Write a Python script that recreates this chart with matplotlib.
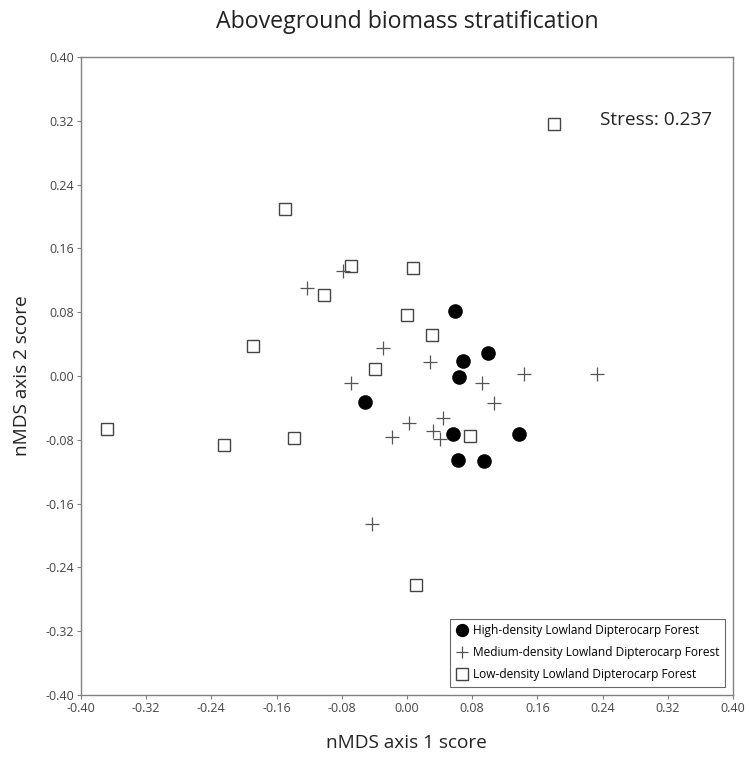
import matplotlib
matplotlib.use("Agg")
import matplotlib.pyplot as plt
import numpy as np

plt.rcParams['font.family'] = ['Open Sans', 'DejaVu Sans']

# nMDS scores
high_x = [0.059, 0.100, 0.069, 0.064, -0.052, 0.057, 0.137, 0.063, 0.095]
high_y = [0.082, 0.029, 0.019, -0.001, -0.032, -0.073, -0.073, -0.105, -0.107]

med_x = [-0.123, -0.079, -0.029, -0.069, -0.018, 0.002, -0.043, 0.028,
         0.144, 0.233, 0.092, 0.107, 0.044, 0.032, 0.041]
med_y = [0.111, 0.132, 0.035, -0.009, -0.076, -0.059, -0.185, 0.017,
         0.002, 0.003, -0.009, -0.034, -0.052, -0.069, -0.079]

low_x = [-0.149, -0.069, 0.007, -0.102, 0.000, -0.189, -0.039, 0.031,
         0.180, -0.368, -0.225, -0.139, 0.077, 0.011]
low_y = [0.210, 0.138, 0.136, 0.101, 0.076, 0.038, 0.009, 0.052,
         0.316, -0.066, -0.087, -0.078, -0.075, -0.262]

ticks = np.arange(-0.40, 0.401, 0.08)
tick_labels = ['%.2f' % t if abs(t) > 1e-9 else '0.00' for t in ticks]

fig = plt.figure(figsize=(7.49, 7.58), dpi=100)
ax = fig.add_axes([0.108, 0.083, 0.8706, 0.8418])

ax.plot(high_x, high_y, 'o', ms=9.5, color='black', mec='black',
        label='High-density Lowland Dipterocarp Forest', zorder=3)
ax.plot(med_x, med_y, '+', ms=10, mew=0.9, color='#555555',
        label='Medium-density Lowland Dipterocarp Forest', zorder=3)
ax.plot(low_x, low_y, 's', ms=9, mew=1.0, mfc='white', mec='#444444',
        label='Low-density Lowland Dipterocarp Forest', zorder=2)

ax.set_xlim(-0.40, 0.40)
ax.set_ylim(-0.40, 0.40)
ax.set_xticks(ticks)
ax.set_xticklabels(tick_labels)
ax.set_yticks(ticks)
ax.set_yticklabels(tick_labels)
ax.tick_params(direction='out', length=3, width=0.8, colors='#808080',
               labelcolor='#444444', labelsize=9, pad=2)
for s in ax.spines.values():
    s.set_color('#808080')
    s.set_linewidth(1.0)

ax.set_xlabel('nMDS axis 1 score', fontsize=13.7, labelpad=14, color='#222222')
ax.set_ylabel('nMDS axis 2 score', fontsize=13.7, labelpad=10, color='#222222')
ax.set_title('Aboveground biomass stratification', fontsize=16.7, pad=21,
             color='#222222')

ax.text(0.237, 0.321, 'Stress: 0.237', fontsize=13.7, va='center', ha='left',
        color='#222222')

leg = ax.legend(loc='lower right', fontsize=8.6, frameon=True, fancybox=False,
                edgecolor='#444444', borderpad=0.45, labelspacing=0.75,
                handletextpad=0.3, handlelength=1.2, borderaxespad=0.7,
                markerscale=0.9)
leg.get_frame().set_linewidth(0.8)

fig.savefig('out.png', dpi=100)
